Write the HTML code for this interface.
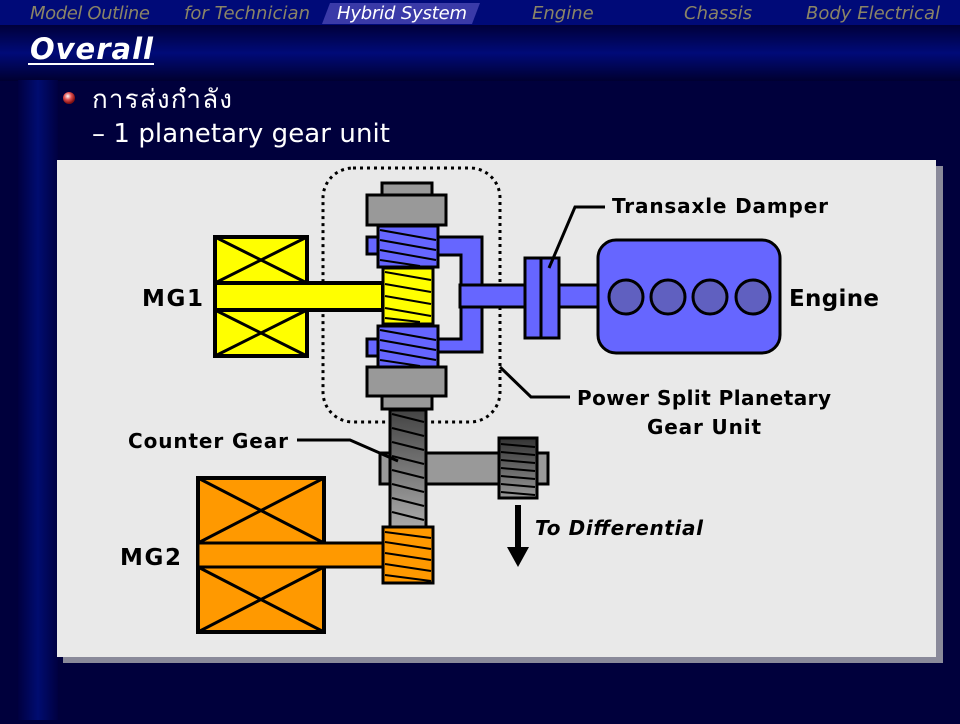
<!DOCTYPE html>
<html><head><meta charset="utf-8"><style>
body{margin:0;width:960px;height:720px;overflow:hidden;background:#00003c;font-family:"DejaVu Sans","Liberation Sans",sans-serif;}
</style></head><body>
<svg width="960" height="720" viewBox="0 0 960 720" xmlns="http://www.w3.org/2000/svg">
<defs>
<linearGradient id="band" x1="0" y1="0" x2="0" y2="1">
<stop offset="0" stop-color="#00003a"/><stop offset="0.5" stop-color="#000a78"/><stop offset="1" stop-color="#000030"/></linearGradient>
<linearGradient id="lbar" x1="0" y1="0" x2="1" y2="0">
<stop offset="0" stop-color="#000040"/><stop offset="0.5" stop-color="#000c70"/><stop offset="1" stop-color="#000040"/></linearGradient>
<linearGradient id="cg" x1="0" y1="0" x2="0" y2="1">
<stop offset="0" stop-color="#444"/><stop offset="1" stop-color="#aaa"/></linearGradient>
<linearGradient id="sg" x1="0" y1="0" x2="0" y2="1">
<stop offset="0" stop-color="#333"/><stop offset="1" stop-color="#999"/></linearGradient>
<radialGradient id="bul" cx="0.4" cy="0.35" r="0.6"><stop offset="0" stop-color="#fff"/><stop offset="0.5" stop-color="#e05050"/><stop offset="1" stop-color="#801010"/></radialGradient>
</defs>
<rect width="960" height="720" fill="#00003c"/>
<rect x="0" y="0" width="960" height="25" fill="#000a78"/>
<rect x="0" y="25" width="960" height="56" fill="url(#band)"/>
<rect x="18" y="80" width="40" height="640" fill="url(#lbar)"/>
<polygon points="330,3 480,3 472,24 322,24" fill="#3a3aa8"/>
<g font-family="'Comic Sans MS','DejaVu Sans',sans-serif" font-style="italic" font-size="18" fill="#8a8466">
<text x="30" y="19" textLength="120">Model Outline</text>
<text x="184" y="19" textLength="126">for Technician</text>
<text x="337" y="19" fill="#fff" textLength="130">Hybrid System</text>
<text x="532" y="19">Engine</text>
<text x="684" y="19">Chassis</text>
<text x="806" y="19" textLength="134">Body Electrical</text>
</g>
<text x="30" y="59" font-family="'DejaVu Sans',sans-serif" font-weight="bold" font-style="italic" font-size="29" fill="#fff" textLength="123">Overall</text>
<rect x="28" y="63" width="126" height="2" fill="#fff"/>
<circle cx="69" cy="98" r="6" fill="url(#bul)"/>
<text x="92" y="108" font-family="'DejaVu Sans','Liberation Sans',sans-serif" font-size="26" fill="#fff" textLength="140">การส่งกำลัง</text>
<text x="92" y="142" font-family="'DejaVu Sans',sans-serif" font-size="26" fill="#fff" textLength="298">–  1 planetary gear unit</text>
<!-- panel -->
<rect x="63" y="166" width="880" height="497" fill="#8a8a9a"/>
<rect x="57" y="160" width="879" height="497" fill="#e9e9e9"/>
<g stroke="#000" stroke-width="4">
<rect x="323" y="168" width="177" height="254" rx="30" fill="none" stroke-width="3" stroke-dasharray="3,4"/>
<rect x="215" y="237" width="92" height="119" fill="#ffff00"/>
<path d="M215,237L307,283M307,237L215,283M215,310L307,356M307,310L215,356" fill="none" stroke-width="3"/>
<rect x="215" y="283" width="168" height="27" fill="#ffff00"/>
<path d="M417,237H482V352H417V339H461V255H417Z" fill="#6666ff" stroke-width="3"/>
<rect x="460" y="285" width="140" height="22" fill="#6666ff" stroke-width="3"/>
<rect x="367" y="237" width="12" height="17" fill="#6666ff" stroke-width="3"/>
<rect x="367" y="339" width="12" height="17" fill="#6666ff" stroke-width="3"/>
<rect x="378" y="226" width="60" height="41" fill="#6666ff" stroke-width="3"/>
<rect x="378" y="326" width="60" height="41" fill="#6666ff" stroke-width="3"/>
<path d="M380,230L436,240M380,240L436,250M380,250L436,260M380,260L420,266M380,330L436,340M380,340L436,350M380,350L436,360M380,360L420,366" stroke-width="2"/>
<rect x="383" y="268" width="50" height="56" fill="#ffff00" stroke-width="3"/>
<path d="M385,272L431,280M385,284L431,292M385,296L431,304M385,308L431,316M385,318L420,322" stroke-width="2"/>
<rect x="382" y="183" width="50" height="13" fill="#999" stroke-width="3"/>
<rect x="367" y="195" width="79" height="30" fill="#999" stroke-width="3"/>
<rect x="367" y="367" width="79" height="29" fill="#999" stroke-width="3"/>
<rect x="382" y="396" width="50" height="13" fill="#999" stroke-width="3"/>
<rect x="559" y="285" width="42" height="22" fill="#6666ff" stroke-width="3"/>
<rect x="525" y="258" width="34" height="80" fill="#6666ff" stroke-width="3"/>
<line x1="541" y1="258" x2="541" y2="338" stroke-width="3"/>
<rect x="598" y="240" width="182" height="113" rx="18" fill="#6666ff" stroke-width="3"/>
<circle cx="626" cy="297" r="17" fill="#6060c0" stroke-width="3"/>
<circle cx="668" cy="297" r="17" fill="#6060c0" stroke-width="3"/>
<circle cx="710" cy="297" r="17" fill="#6060c0" stroke-width="3"/>
<circle cx="753" cy="297" r="17" fill="#6060c0" stroke-width="3"/>
<rect x="380" y="453" width="168" height="31" fill="#999" stroke-width="3"/>
<rect x="390" y="410" width="36" height="118" fill="url(#cg)" stroke-width="3"/>
<path d="M392,414L424,422M392,428L424,436M392,442L424,450M392,456L424,464M392,470L424,478M392,484L424,492M392,498L424,506M392,512L424,520" stroke-width="2"/>
<rect x="499" y="438" width="38" height="60" fill="url(#sg)" stroke-width="3"/>
<path d="M501,444L535,447M501,452L535,455M501,460L535,463M501,468L535,471M501,476L535,479M501,484L535,487M501,492L535,495" stroke-width="2"/>
<rect x="198" y="478" width="126" height="154" fill="#ff9900"/>
<path d="M198,478L324,543M324,478L198,543M198,567L324,632M324,567L198,632" fill="none" stroke-width="3"/>
<rect x="198" y="543" width="186" height="24" fill="#ff9900" stroke-width="3"/>
<rect x="383" y="527" width="50" height="56" fill="#ff9900" stroke-width="3"/>
<path d="M385,532L431,538M385,542L431,549M385,553L431,560M385,564L431,571M385,575L431,581" stroke-width="2"/>
<path d="M549,268L575,207H605" fill="none" stroke-width="3"/>
<path d="M500,367L531,397H570" fill="none" stroke-width="3"/>
<path d="M297,440H350L398,461" fill="none" stroke-width="3"/>
<line x1="518" y1="505" x2="518" y2="550" stroke-width="6"/>
</g>
<polygon points="507,547 529,547 518,567" fill="#000"/>
<g font-family="'DejaVu Sans',sans-serif" font-size="23" font-weight="bold" fill="#000">
<text x="142" y="306" textLength="61">MG1</text>
<text x="120" y="565" textLength="61">MG2</text>
<text x="789" y="306" textLength="90">Engine</text>
</g>
<g font-family="'DejaVu Sans',sans-serif" font-size="20" font-weight="bold" fill="#000">
<text x="612" y="213" textLength="216">Transaxle Damper</text>
<text x="577" y="405" textLength="254">Power Split Planetary</text>
<text x="647" y="434" textLength="114">Gear Unit</text>
<text x="128" y="448" textLength="160">Counter Gear</text>
<text x="535" y="535" font-style="italic" textLength="168">To Differential</text>
</g>
</svg>
</body></html>
